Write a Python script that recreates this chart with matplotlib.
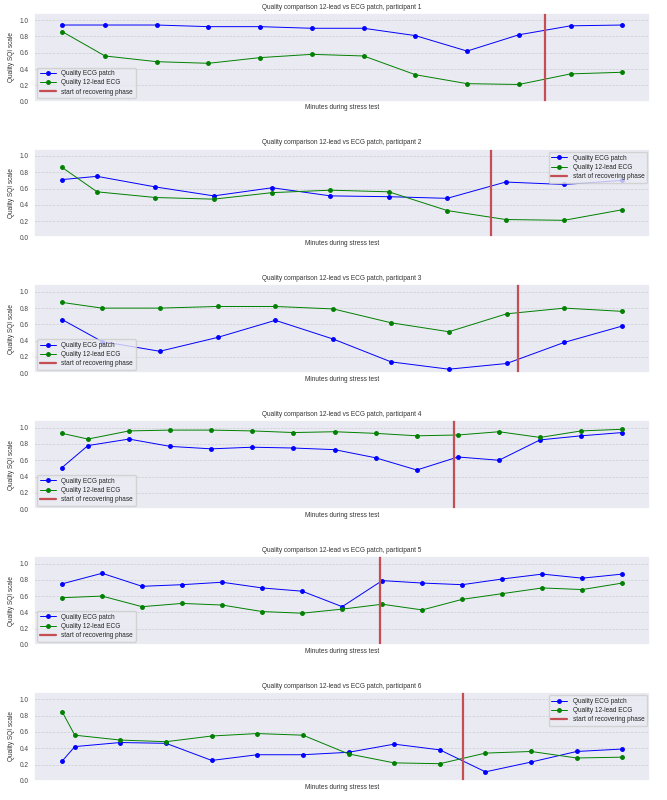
import numpy as np
import matplotlib.pyplot as plt
import seaborn as sns

sns.set_theme(style="darkgrid")
plt.rcParams['font.family'] = ['Liberation Sans', 'DejaVu Sans']

# minutes during stress test per participant
x1 = [0.17, 1, 2, 3, 4, 5, 6, 7, 8, 9, 10, 11]
x2 = [0.4, 1, 2, 3, 4, 5, 6, 7, 8, 9, 10]
x3 = [0.31, 1, 2, 3, 4, 5, 6, 7, 8, 9, 10]
x4 = [0.37, 1, 2, 3, 4, 5, 6, 7, 8, 9, 10, 11, 12, 13, 14]
x5 = [0, 1, 2, 3, 4, 5, 6, 7, 8, 9, 10, 11, 12, 13, 14]
x6 = [0.72, 1, 2, 3, 4, 5, 6, 7, 8, 9, 10, 11, 12, 13]

# SQI of the ECG patch
patch1 = [0.94, 0.94, 0.94, 0.92, 0.92, 0.90, 0.90, 0.81, 0.62, 0.82, 0.93, 0.94]
patch2 = [0.71, 0.75, 0.62, 0.51, 0.61, 0.51, 0.50, 0.48, 0.68, 0.65, 0.70]
patch3 = [0.66, 0.39, 0.27, 0.44, 0.65, 0.42, 0.14, 0.05, 0.12, 0.38, 0.58]
patch4 = [0.51, 0.78, 0.86, 0.77, 0.74, 0.76, 0.75, 0.73, 0.63, 0.48, 0.64, 0.60,
          0.85, 0.90, 0.94]
patch5 = [0.75, 0.88, 0.72, 0.74, 0.77, 0.70, 0.66, 0.47, 0.79, 0.76, 0.74, 0.81,
          0.87, 0.82, 0.87]
patch6 = [0.24, 0.42, 0.47, 0.46, 0.25, 0.32, 0.32, 0.35, 0.45, 0.38, 0.11, 0.23,
          0.36, 0.39]

# SQI of the 12-lead ECG
lead1 = [0.86, 0.56, 0.49, 0.47, 0.54, 0.58, 0.56, 0.33, 0.22, 0.21, 0.34, 0.36]
lead2 = [0.86, 0.56, 0.49, 0.47, 0.55, 0.58, 0.56, 0.33, 0.22, 0.21, 0.34]
lead3 = [0.87, 0.80, 0.80, 0.82, 0.82, 0.79, 0.62, 0.51, 0.73, 0.80, 0.76]
lead4 = [0.93, 0.86, 0.96, 0.97, 0.97, 0.96, 0.94, 0.95, 0.93, 0.90, 0.91, 0.95,
         0.88, 0.96, 0.98]
lead5 = [0.58, 0.60, 0.47, 0.51, 0.49, 0.41, 0.39, 0.44, 0.50, 0.43, 0.56, 0.63,
         0.70, 0.68, 0.76]
lead6 = [0.85, 0.56, 0.50, 0.48, 0.55, 0.58, 0.56, 0.33, 0.22, 0.21, 0.34, 0.36,
         0.28, 0.29]

# start of recovering phase (minute)
recover = [9.5, 7.75, 8.2, 9.9, 7.95, 9.5]
legend_loc = ['lower left', 'upper right', 'lower left', 'lower left', 'lower left', 'upper right']

xs = [x1, x2, x3, x4, x5, x6]
patches = [patch1, patch2, patch3, patch4, patch5, patch6]
leads = [lead1, lead2, lead3, lead4, lead5, lead6]

fs = 4.7
fig, axes = plt.subplots(6, 1, figsize=(6.67, 8), dpi=100)
fig.subplots_adjust(left=0.051, right=0.975, top=0.984, bottom=0.024, hspace=0.53)

for i, ax in enumerate(axes):
    ax.plot(xs[i], patches[i], color='blue', marker='o', markersize=2.5, linewidth=0.7,
            label='Quality ECG patch')
    ax.plot(xs[i], leads[i], color='green', marker='o', markersize=2.5, linewidth=0.7,
            label='Quality 12-lead ECG')
    ax.axvline(recover[i], color='#C44E52', linewidth=1.6, label='start of recovering phase')
    ax.set_ylim(0, 1.09)
    ax.set_yticks([0.0, 0.2, 0.4, 0.6, 0.8, 1.0])
    ax.set_xticks([])
    ax.grid(True, axis='y', color='#cdcdd6', linestyle='--', linewidth=0.5)
    ax.tick_params(axis='y', labelsize=fs, pad=4, length=0, labelcolor='#444444')
    ax.set_ylabel('Quality SQI scale', fontsize=fs, labelpad=3, color='#333333')
    ax.set_xlabel('Minutes during stress test', fontsize=fs, labelpad=2, color='#333333')
    ax.set_title('Quality comparison 12-lead vs ECG patch, participant %d' % (i + 1),
                 fontsize=fs, pad=3, color='#333333')
    ax.legend(loc=legend_loc[i], fontsize=fs, handlelength=2.5, borderpad=0.4,
              labelspacing=0.35)

fig.savefig('out.png', dpi=100)
